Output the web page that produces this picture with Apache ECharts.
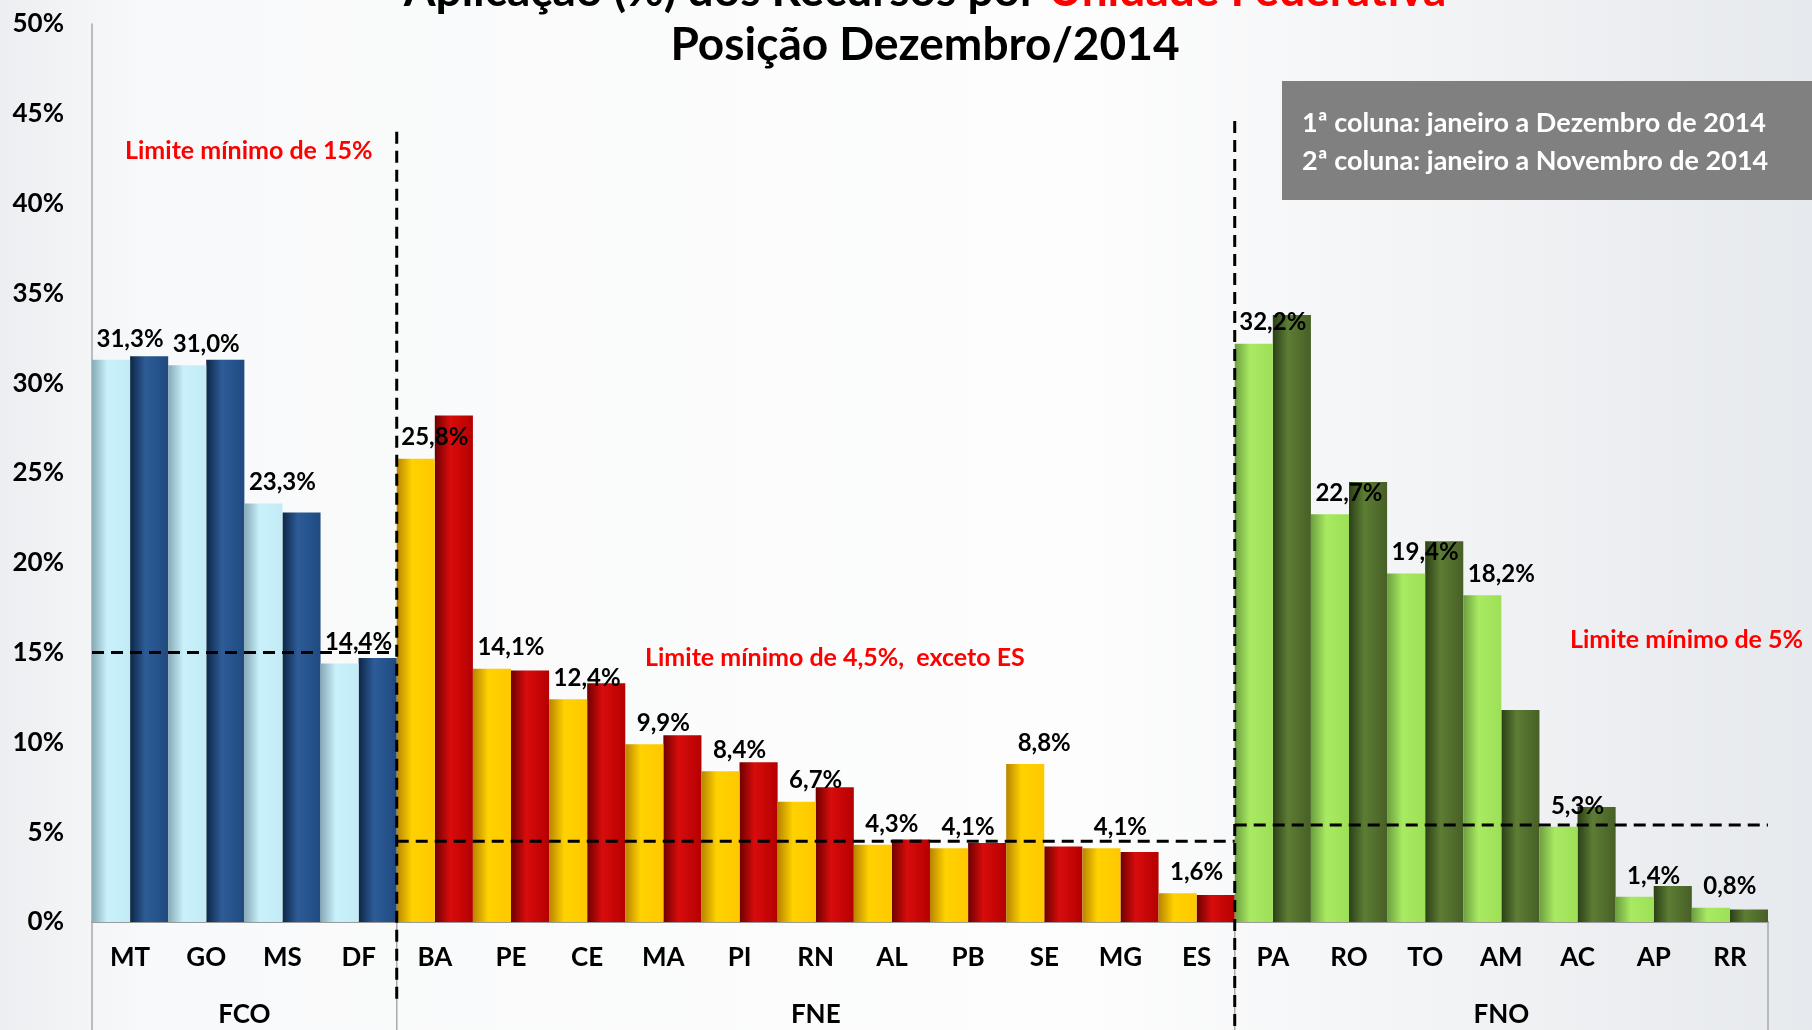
<!DOCTYPE html>
<html>
<head>
<meta charset="utf-8">
<title>Aplicação (%) dos Recursos por Unidade Federativa</title>
<script src="https://cdn.jsdelivr.net/npm/echarts@6/dist/echarts.min.js"></script>
<style>
  html, body { margin: 0; padding: 0; }
  #chart { width: 1812px; height: 1030px; }
</style>
</head>
<body>
<div id="chart"></div>
<script>
// dados
const categories = ['MT', 'GO', 'MS', 'DF', 'BA', 'PE', 'CE', 'MA', 'PI', 'RN', 'AL', 'PB', 'SE', 'MG', 'ES', 'PA', 'RO', 'TO', 'AM', 'AC', 'AP', 'RR'];
const groupNames = ['FCO', 'FNE', 'FNO'];
const groupSizes = [4, 11, 7];
// 1a coluna: janeiro a dezembro de 2014
const janDez2014 = [31.3, 31.0, 23.3, 14.4, 25.8, 14.1, 12.4, 9.9, 8.4, 6.7, 4.3, 4.1, 8.8, 4.1, 1.6, 32.2, 22.7, 19.4, 18.2, 5.3, 1.4, 0.8];
// 2a coluna: janeiro a novembro de 2014 (sem rótulo, estimado)
const janNov2014 = [31.5, 31.3, 22.8, 14.7, 28.2, 14.0, 13.3, 10.4, 8.9, 7.5, 4.6, 4.4, 4.2, 3.9, 1.5, 33.8, 24.5, 21.2, 11.8, 6.4, 2.0, 0.7];
const limitValues = [15, 4.5, 5.4];
const limitTexts = ['Limite mínimo de 15%', 'Limite mínimo de 4,5%,  exceto ES', 'Limite mínimo de 5%'];
const yTickValues = [0, 5, 10, 15, 20, 25, 30, 35, 40, 45, 50];

const FONT = 'Lato';

// cores (gradiente horizontal, estilo Excel)
const palette = [
  [['#86aab6', '#c9f1fb', '#c2ebf6'], ['#0d2646', '#2d5c97', '#1f4a80']],
  [['#b88400', '#ffd200', '#ffc800'], ['#6e0000', '#d80c0c', '#b50000']],
  [['#6d9e40', '#a8ea62', '#9de058'], ['#2b4016', '#5d7d34', '#475f26']]
];
function shade(s) {
  return new echarts.graphic.LinearGradient(0, 0, 1, 0, [
    { offset: 0, color: s[0] }, { offset: 0.4, color: s[1] }, { offset: 1, color: s[2] }
  ]);
}

// índice do grupo de cada categoria
const groupOf = [];
const groupStart = [0];
groupSizes.forEach((n, g) => {
  for (let i = 0; i < n; i++) groupOf.push(g);
  groupStart.push(groupStart[g] + n);
});

const chartDom = document.getElementById('chart');
const myChart = echarts.init(chartDom);

const fmt = v => v.toFixed(1).replace('.', ',') + '%';

const series = [
  {
    name: '1ª coluna',
    type: 'bar',
    z: 3,
    barGap: '0%',
    barCategoryGap: '0%',
    data: janDez2014.map((v, i) => ({ value: v, itemStyle: { color: shade(palette[groupOf[i]][0]) } })),
    label: {
      show: true,
      position: 'top',
      distance: 9,
      offset: [19, 0],
      formatter: p => fmt(p.value),
      color: '#000',
      fontFamily: FONT,
      fontWeight: 'bold',
      fontSize: 24
    }
  },
  {
    name: '2ª coluna',
    type: 'bar',
    z: 2,
    data: janNov2014.map((v, i) => ({ value: v, itemStyle: { color: shade(palette[groupOf[i]][1]) } }))
  }
];

// linhas de limite mínimo por fundo
limitValues.forEach((lim, g) => {
  series.push({
    type: 'line',
    xAxisIndex: 1,
    z: 5,
    silent: true,
    clip: false,
    symbol: 'none',
    data: [[groupStart[g], lim], [groupStart[g + 1], lim]],
    lineStyle: { color: '#000', width: 3, type: [12, 7] }
  });
});

// divisões entre grupos (linha fina cinza abaixo do eixo)
groupStart.forEach(x => {
  series.push({
    type: 'line', xAxisIndex: 1, z: 1, silent: true, clip: false, symbol: 'none',
    data: [[x, 0], [x, -6.3]],
    lineStyle: { color: '#a9a9a9', width: 1.5 }
  });
});
// separadores tracejados verticais
[[4, 44.0, -4.6], [15, 44.6, -6.3]].forEach(s => {
  series.push({
    type: 'line', xAxisIndex: 1, z: 6, silent: true, clip: false, symbol: 'none',
    data: [[s[0], s[1]], [s[0], s[2]]],
    lineStyle: { color: '#000', width: 3, type: [12, 7] }
  });
});

const option = {
  animation: false,
  backgroundColor: new echarts.graphic.LinearGradient(0, 0, 1, 0, [
    { offset: 0, color: '#eceef1' },
    { offset: 0.08, color: '#f8f9fa' },
    { offset: 0.6, color: '#fdfdfd' },
    { offset: 1, color: '#e6e9ed' }
  ]),
  textStyle: { fontFamily: FONT },
  grid: { left: 92, right: 44, top: 24, bottom: 108 },
  xAxis: [
    {
      type: 'category',
      data: categories,
      axisLine: { lineStyle: { color: '#9a9a9a', width: 2 } },
      axisTick: { show: false },
      axisLabel: { color: '#000', fontFamily: FONT, fontWeight: 'bold', fontSize: 26, margin: 23, interval: 0 }
    },
    { type: 'value', min: 0, max: categories.length, show: false }
  ],
  yAxis: {
    type: 'value',
    min: yTickValues[0],
    max: yTickValues[yTickValues.length - 1],
    interval: yTickValues[1] - yTickValues[0],
    axisLine: { show: true, lineStyle: { color: '#a9a9a9', width: 1.5 } },
    axisTick: { show: false },
    splitLine: { show: false },
    axisLabel: { formatter: '{value}%', color: '#000', fontFamily: FONT, fontWeight: 'bold', fontSize: 26, margin: 28 }
  },
  series: series
};

option && myChart.setOption(option);

// textos: título, quadro explicativo, limites e nomes dos grupos
const graphic = [
  {
    type: 'text', x: 925, y: -9, z: 10,
    style: {
      text: '{k|Aplicação (%) dos Recursos por }{r|Unidade Federativa}',
      align: 'center', verticalAlign: 'middle',
      rich: {
        k: { fontFamily: FONT, fontWeight: 'bold', fontSize: 46, fill: '#000' },
        r: { fontFamily: FONT, fontWeight: 'bold', fontSize: 46, fill: '#ff0000' }
      }
    }
  },
  {
    type: 'text', x: 925, y: 45, z: 10,
    style: { text: 'Posição Dezembro/2014', align: 'center', verticalAlign: 'middle', fontFamily: FONT, fontWeight: 'bold', fontSize: 46, fill: '#000' }
  },
  {
    type: 'rect', x: 1282, y: 81, z: 10,
    shape: { width: 530, height: 119 },
    style: { fill: '#808080' }
  },
  {
    type: 'text', x: 1302, y: 123, z: 11,
    style: { text: '1ª coluna: janeiro a Dezembro de 2014', verticalAlign: 'middle', fontFamily: FONT, fontWeight: 'bold', fontSize: 27, fill: '#fff' }
  },
  {
    type: 'text', x: 1302, y: 161, z: 11,
    style: { text: '2ª coluna: janeiro a Novembro de 2014', verticalAlign: 'middle', fontFamily: FONT, fontWeight: 'bold', fontSize: 27, fill: '#fff' }
  }
];

const limitPos = [[125, 151], [645, 658], [1570, 640]];
limitTexts.forEach((t, g) => {
  graphic.push({
    type: 'text', x: limitPos[g][0], y: limitPos[g][1], z: 10,
    style: { text: t, verticalAlign: 'middle', fontFamily: FONT, fontWeight: 'bold', fontSize: 25, fill: '#ff0000' }
  });
});

groupNames.forEach((name, g) => {
  const cx = myChart.convertToPixel({ xAxisIndex: 1 }, (groupStart[g] + groupStart[g + 1]) / 2);
  graphic.push({
    type: 'text', x: cx, y: 1015, z: 10,
    style: { text: name, align: 'center', verticalAlign: 'middle', fontFamily: FONT, fontWeight: 'bold', fontSize: 26, fill: '#000' }
  });
});

myChart.setOption({ graphic: graphic });
</script>
</body>
</html>
